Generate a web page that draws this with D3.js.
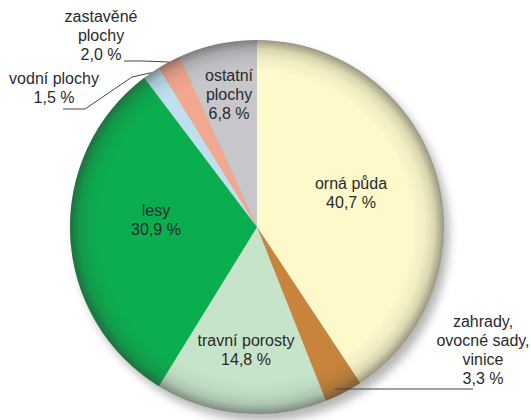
<!DOCTYPE html>
<html><head><meta charset="utf-8">
<script src="https://cdn.jsdelivr.net/npm/d3@7"></script>
<style>body{margin:0;background:#fff}svg{display:block}</style>
</head><body>
<svg id="c" width="531" height="420"></svg>
<script>
const categories = ["orná půda","zahrady, ovocné sady, vinice","travní porosty","lesy","vodní plochy","zastavěné plochy","ostatní plochy"];
const values = [40.7, 3.3, 14.8, 30.9, 1.5, 2.0, 6.8];
const valueLabels = ["40,7 %","3,3 %","14,8 %","30,9 %","1,5 %","2,0 %","6,8 %"];
const colors = ["#FEF9CB","#C8843C","#C6E4C9","#0BAE4F","#BEE0EE","#F2A78E","#C6C6CB"];
const labelLines = [["orná půda","40,7 %"],["zahrady,","ovocné sady,","vinice","3,3 %"],["travní porosty","14,8 %"],["lesy","30,9 %"],["vodní plochy","1,5 %"],["zastavěné","plochy","2,0 %"],["ostatní","plochy","6,8 %"]];

const svg = d3.select("#c");
const cx = 257, cy = 227, R = 187;
const defs = svg.append("defs");
const blur = defs.append("filter").attr("id","sh").attr("x","-20%").attr("y","-20%").attr("width","140%").attr("height","140%");
blur.append("feGaussianBlur").attr("stdDeviation",5);
const rg = defs.append("radialGradient").attr("id","rim").attr("cx","50%").attr("cy","50%").attr("r","50%");
[[0,0],[0.83,0],[0.9,0.06],[0.95,0.18],[0.985,0.4],[1,0.5]].forEach(([o,a])=>rg.append("stop").attr("offset",o).attr("stop-color","#333").attr("stop-opacity",a));

const g = svg.append("g").attr("transform",`translate(${cx},${cy})`);
g.append("circle").attr("cx",5).attr("cy",7).attr("r",R).attr("fill","#777").attr("opacity",0.55).attr("filter","url(#sh)");

const pie = d3.pie().sort(null).value(d=>d)(values);
const arc = d3.arc().innerRadius(0).outerRadius(R);
g.selectAll("path.s").data(pie).join("path").attr("class","s")
  .attr("d",arc).attr("fill",(d,i)=>colors[i]);
g.append("circle").attr("r",R).attr("fill","url(#rim)");

const labelPos = [
  {x:351,y:185},
  {x:483,y:323},
  {x:246,y:342},
  {x:156,y:212},
  {x:54,y:80},
  {x:101,y:18},
  {x:229,y:77}
];
const lh = 19;
labelPos.forEach((p,i)=>{
  const t = svg.append("text").attr("x",p.x).attr("y",p.y).attr("text-anchor","middle")
    .attr("font-family","Liberation Sans, Arial, sans-serif").attr("font-size",16).attr("fill","#2a2a2a");
  labelLines[i].forEach((s,j)=>t.append("tspan").attr("x",p.x).attr("dy",j?lh:0).attr("dominant-baseline","middle").text(s));
});

function edgePt(i, f){ const d=pie[i]; const a=(d.startAngle+d.endAngle)/2; return [cx+Math.sin(a)*R*f, cy-Math.cos(a)*R*f]; }
const line = d3.line();
const ls = svg.append("g").attr("fill","none").attr("stroke","#444").attr("stroke-width",1);
ls.append("path").attr("d",line([[124,61],[143,61],edgePt(5,1.0)]));
ls.append("path").attr("d",line([[63,109],[85,109],[132,77],edgePt(4,1.0)]));
const zh = edgePt(1,0.97);
ls.append("path").attr("d",line([[zh[0]-6,389],[473,389]]));
</script>
</body></html>
